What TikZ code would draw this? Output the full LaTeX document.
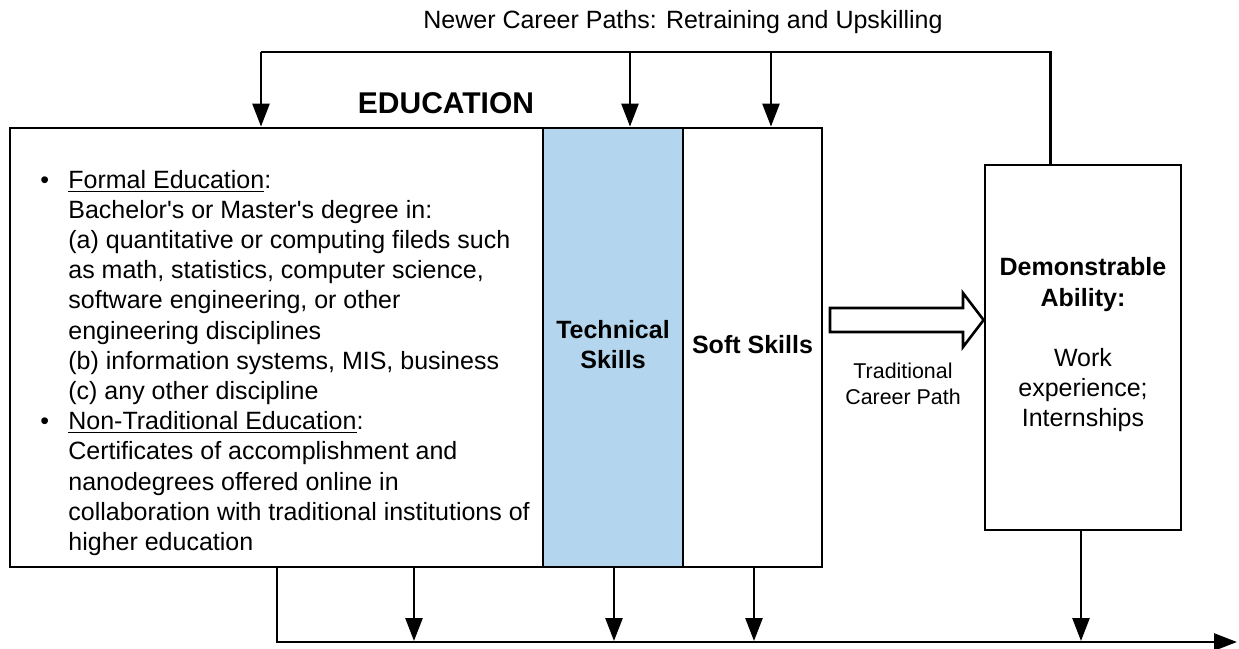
\documentclass[tikz,border=0pt]{standalone}
\usepackage{fontspec}
\setmainfont{Liberation Sans}
\usetikzlibrary{arrows.meta,fit,calc}
\definecolor{skillblue}{RGB}{179,214,238}
\begin{document}
\begin{tikzpicture}[x=0.5pt,y=-0.5pt,
  wire/.style={line width=1.3pt},
  arr/.style={wire,-{Triangle[length=11.5pt,width=8.5pt]}},
  box/.style={draw,line width=1.4pt,inner sep=0pt},
  body/.style={font=\fontsize{12.5}{15.1}\selectfont},
  bold/.style={font=\fontsize{12.5}{15.1}\selectfont\bfseries}]
\useasboundingbox (0,0) rectangle (1239,649);

% Title of the upper feedback path
\node[body] (title) at (683,22) {Newer Career Paths: Retraining and Upskilling};
\node[font=\fontsize{15}{18}\selectfont\bfseries] (eduhead) at (446,103) {EDUCATION};

% Education block with its two skill columns
\node[box, fit={(10,128)(543,567)}] (edu) {};
\node[box, fill=skillblue, fit={(543,128)(683,567)}] (tech) {};
\node[box, fit={(683,128)(822,567)}] (soft) {};
\node[box, fit={(985,165)(1181,530)}] (demo) {};

\node[body, anchor=base west, inner sep=0pt] (edutext) at (40,188) {%
\begin{tabular}[t]{@{}p{14pt}@{}l@{}}
•& \underline{Formal Education}:\\
 & Bachelor\textquotesingle s or Master\textquotesingle s degree in:\\
 & (a) quantitative or computing fileds such\\
 & as math, statistics, computer science,\\
 & software engineering, or other\\
 & engineering disciplines\\
 & (b) information systems, MIS, business\\
 & (c) any other discipline\\
•& \underline{Non-Traditional Education}:\\
 & Certificates of accomplishment and\\
 & nanodegrees offered online in\\
 & collaboration with traditional institutions of\\
 & higher education
\end{tabular}};

\node[bold, align=center] (techtext) at ([yshift=1.5pt]tech.center) {Technical\\Skills};
\node[bold, align=center] (softtext) at ([yshift=1.5pt]soft.center) {Soft Skills};
\node[body, align=center] (demotext) at (1083,345) {\textbf{Demonstrable}\\\textbf{Ability:}\\[15.1pt]Work\\experience;\\Internships};

% Traditional career path: hollow block arrow
\coordinate (ha) at (830,320);
\draw[line width=1.3pt, fill=white]
  ($(ha)+(0,-12)$) -- ++(133,0) -- ++(0,-15) -- (demo.west |- ha)
  -- ($(ha)+(133,27)$) -- ++(0,-15) -- ($(ha)+(0,12)$) -- cycle;
\node[font=\fontsize{10.7}{13}\selectfont, align=center] (tradlabel) at (903,384) {Traditional\\Career Path};

% Upper bus: retraining and upskilling
\coordinate (busL) at (261,52);
\coordinate (busT) at (630,52);
\coordinate (busS) at (771,52);
\draw[wire] ([xshift=33.5pt]demo.north west) |- (busL);
\draw[arr] (busL) -- (busL |- edu.north);
\draw[arr] (busT) -- (busT |- tech.north);
\draw[arr] (busS) -- (busS |- soft.north);

% Lower bus: outcome
\coordinate (outL) at (277,642);
\coordinate (outEnd) at (1237,642);
\draw[arr] (outL |- edu.south) -- (outL) -- (outEnd);
\coordinate (o1) at (414,641);
\coordinate (o2) at (614,641);
\coordinate (o3) at (754,641);
\coordinate (o4) at (1081,641);
\draw[arr] (o1 |- edu.south) -- (o1);
\draw[arr] (o2 |- tech.south) -- (o2);
\draw[arr] (o3 |- soft.south) -- (o3);
\draw[arr] (o4 |- demo.south) -- (o4);
\end{tikzpicture}
\end{document}
